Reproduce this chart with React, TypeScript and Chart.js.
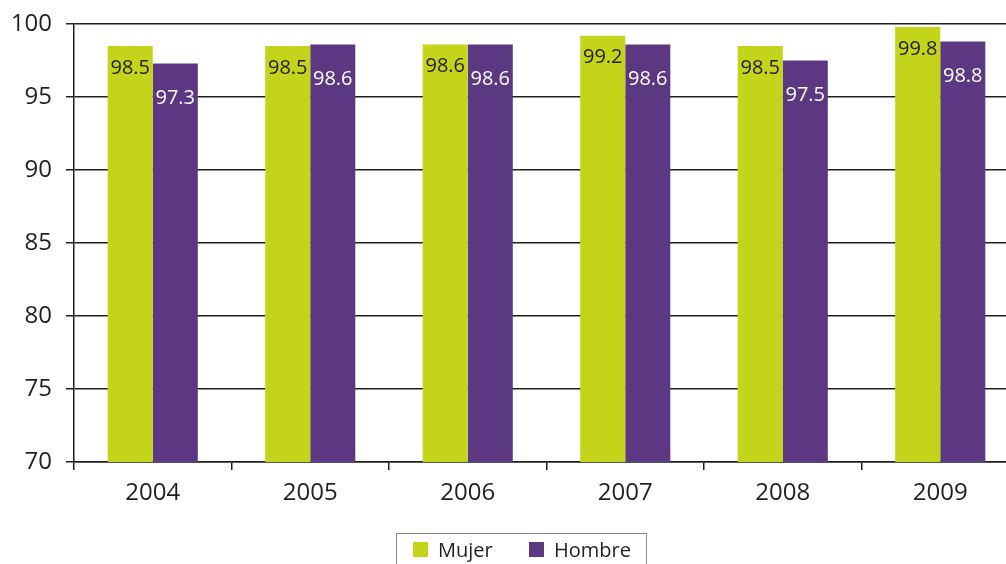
import React, { useEffect, useRef } from "react";
import { Chart, registerables } from "chart.js";

Chart.register(...registerables);

const categories = ["2004", "2005", "2006", "2007", "2008", "2009"];
const mujer = [98.5, 98.5, 98.6, 99.2, 98.5, 99.8];
const hombre = [97.3, 98.6, 98.6, 98.6, 97.5, 98.8];
const seriesNames = ["Mujer", "Hombre"];
const yTicks = { min: 70, max: 100, step: 5 };

const LIME = "#c3d41b";
const PURPLE = "#5c3883";
const INK = "#231f20";
const FONT = "'Open Sans', 'Noto Sans', sans-serif";

const labelPlugin = {
  id: "barLabels",
  afterDatasetsDraw(chart: any) {
    const ctx = chart.ctx;
    ctx.save();
    ctx.font = `20px ${FONT}`;
    ctx.textAlign = "center";
    ctx.textBaseline = "middle";
    chart.data.datasets.forEach((ds: any, di: number) => {
      const meta = chart.getDatasetMeta(di);
      meta.data.forEach((el: any, i: number) => {
        const v = ds.data[i];
        ctx.fillStyle = di === 0 ? INK : "#ffffff";
        const off = di === 0 ? 22 : 35;
        ctx.fillText(v.toFixed(1), el.x, el.y + off);
      });
    });
    ctx.restore();
  },
};

const legendPlugin = {
  id: "boxLegend",
  afterDraw(chart: any) {
    const ctx = chart.ctx;
    ctx.save();
    ctx.strokeStyle = "#888888";
    ctx.lineWidth = 1;
    ctx.strokeRect(396.5, 533.5, 250, 40);
    const items = [
      { x: 413, color: LIME, text: seriesNames[0] },
      { x: 529, color: PURPLE, text: seriesNames[1] },
    ];
    ctx.font = `20px ${FONT}`;
    ctx.textAlign = "left";
    ctx.textBaseline = "alphabetic";
    items.forEach((it) => {
      ctx.fillStyle = it.color;
      ctx.fillRect(it.x, 542, 15, 15);
      ctx.fillStyle = INK;
      ctx.fillText(it.text, it.x + 25, 557);
    });
    ctx.restore();
  },
};

export default function App() {
  const ref = useRef<HTMLCanvasElement | null>(null);
  useEffect(() => {
    if (!ref.current) return;
    const chart = new Chart(ref.current, {
      type: "bar",
      data: {
        labels: categories,
        datasets: [
          { label: seriesNames[0], data: mujer, backgroundColor: LIME, borderWidth: 0 },
          { label: seriesNames[1], data: hombre, backgroundColor: PURPLE, borderWidth: 0 },
        ],
      },
      options: {
        responsive: false,
        animation: false,
        events: [],
        layout: { padding: { top: 24, right: 23, left: 0, bottom: 0 } },
        datasets: { bar: { categoryPercentage: 0.572, barPercentage: 1 } },
        plugins: { legend: { display: false }, tooltip: { enabled: false } },
        scales: {
          x: {
            offset: true,
            grid: {
              offset: true,
              drawOnChartArea: false,
              drawTicks: true,
              tickLength: 8,
              color: INK,
              lineWidth: 1.5,
            },
            border: { color: INK, width: 1.5 },
            ticks: { color: INK, font: { family: FONT, size: 24 }, padding: 9 },
            afterFit: (s: any) => {
              s.height = 102;
              s.paddingLeft = 0;
              s.paddingRight = 0;
            },
          },
          y: {
            min: yTicks.min,
            max: yTicks.max,
            ticks: {
              stepSize: yTicks.step,
              color: INK,
              font: { family: FONT, size: 24 },
              padding: 14,
            },
            grid: { color: INK, lineWidth: 1.5, tickLength: 8 },
            border: { color: INK, width: 1.5 },
            afterFit: (s: any) => {
              s.width = 74;
              s.paddingTop = 0;
              s.paddingBottom = 0;
            },
          },
        },
      },
      plugins: [labelPlugin, legendPlugin],
    });
    return () => chart.destroy();
  }, []);
  return (
    <div
      style={{
        position: "fixed",
        left: 0,
        top: 0,
        width: 1006,
        height: 564,
        overflow: "hidden",
        background: "#ffffff",
      }}
    >
      <canvas ref={ref} width={1042} height={564} style={{ position: "absolute", left: 0, top: 0 }} />
    </div>
  );
}
